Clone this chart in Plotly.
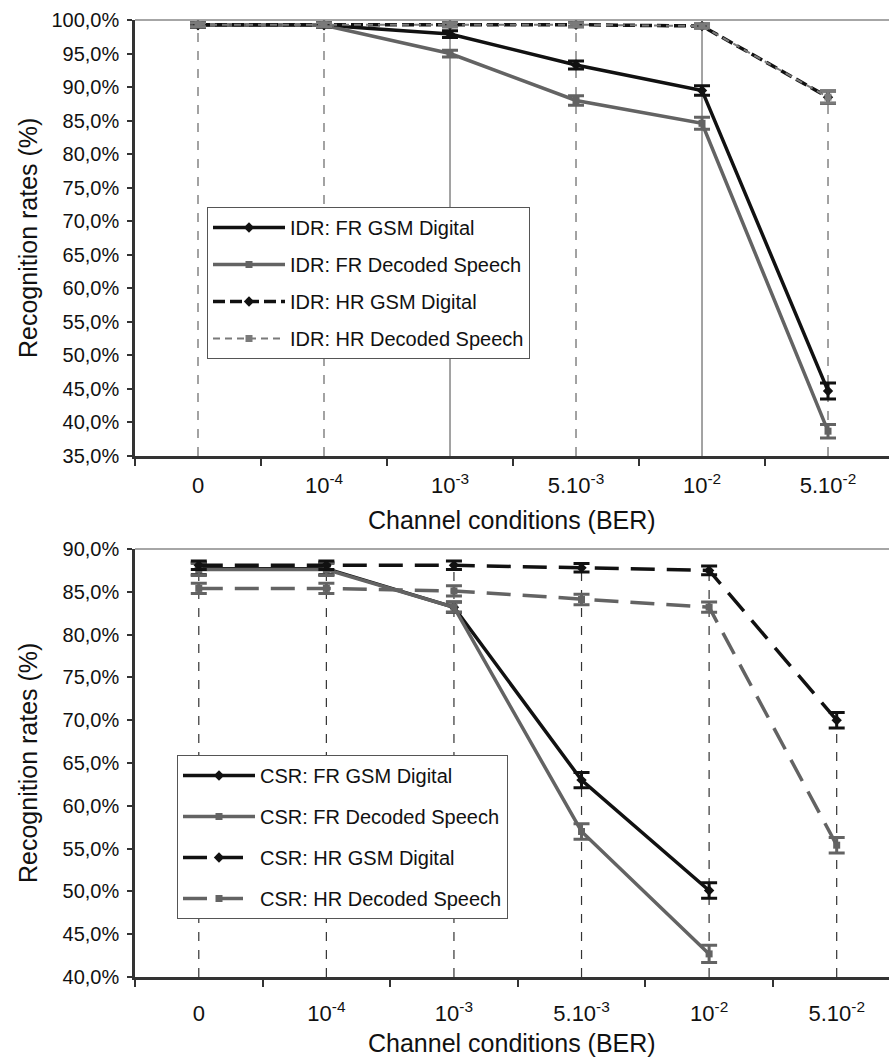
import plotly.graph_objects as go

# Channel conditions (bit error rate) shared by both panels
ber_labels = ["0", "10<sup>-4</sup>", "10<sup>-3</sup>", "5.10<sup>-3</sup>", "10<sup>-2</sup>", "5.10<sup>-2</sup>"]

# Isolated digit recognition (IDR) rates, %
idr_fr_digital = [99.2, 99.2, 97.9, 93.3, 89.5, 44.7]
idr_fr_digital_err = [0.3, 0.3, 0.5, 0.6, 0.7, 1.2]
idr_fr_decoded = [99.2, 99.2, 95.0, 88.0, 84.6, 38.7]
idr_fr_decoded_err = [0.3, 0.3, 0.5, 0.7, 0.9, 1.0]
idr_hr_digital = [99.3, 99.3, 99.3, 99.3, 99.1, 88.5]
idr_hr_digital_err = [0.3, 0.3, 0.3, 0.3, 0.3, 0.9]
idr_hr_decoded = [99.3, 99.3, 99.3, 99.3, 99.1, 88.5]
idr_hr_decoded_err = [0.3, 0.3, 0.3, 0.3, 0.3, 0.9]

# Continuous speech recognition (CSR) rates, %
csr_fr_digital = [87.7, 87.7, 83.2, 63.0, 50.1, None]
csr_fr_digital_err = [0.7, 0.7, 0.6, 0.9, 0.9, None]
csr_fr_decoded = [87.6, 87.6, 83.2, 57.0, 42.7, None]
csr_fr_decoded_err = [0.7, 0.7, 0.6, 0.9, 1.0, None]
csr_hr_digital = [88.1, 88.1, 88.1, 87.8, 87.5, 70.0]
csr_hr_digital_err = [0.5, 0.5, 0.5, 0.5, 0.5, 0.9]
csr_hr_decoded = [85.4, 85.4, 85.1, 84.1, 83.2, 55.4]
csr_hr_decoded_err = [0.6, 0.6, 0.6, 0.6, 0.6, 0.9]

idr_yticks = list(range(35, 101, 5))
csr_yticks = list(range(40, 91, 5))

W, H = 889, 1057
FONT = "Liberation Sans, Arial, sans-serif"
BLACK = "#111111"
GREY = "#636363"
LIGHT = "#7a7a7a"


def pct(v):
    return f"{v:.1f}%".replace(".", ",")


def py(px):
    return 1 - px / H


fig = go.Figure()


def add_panel(prefix, series, xa, ya, legend, y_floor, drop_dash, drop_color):
    # drop lines from the axis up to the highest value at each condition
    tops = []
    for i in range(len(ber_labels)):
        vals = [s["y"][i] for s in series if s["y"][i] is not None]
        tops.append(max(vals))
    for i, lab in enumerate(ber_labels):
        fig.add_trace(go.Scatter(
            x=[lab, lab], y=[y_floor, tops[i]], mode="lines",
            line=dict(color=drop_color, width=1.2, dash=drop_dash[i]),
            xaxis=xa, yaxis=ya, showlegend=False, hoverinfo="skip"))
    for k, s in enumerate(series):
        fig.add_trace(go.Scatter(
            x=ber_labels, y=s["y"], name=f"{prefix}: {s['name']}",
            mode="lines+markers",
            line=dict(color=s["color"], width=s["width"], dash=s["dash"]),
            marker=dict(symbol=s["symbol"], size=s["msize"], color=s["color"]),
            error_y=dict(type="data", array=s["err"], visible=True,
                         color=s["color"], thickness=3, width=8),
            xaxis=xa, yaxis=ya, legend=legend, legendgroup=f"{prefix}{k}"))


idr_series = [
    dict(name="FR GSM Digital", y=idr_fr_digital, err=idr_fr_digital_err, color=BLACK,
         width=3.5, dash="solid", symbol="diamond", msize=8),
    dict(name="FR Decoded Speech", y=idr_fr_decoded, err=idr_fr_decoded_err, color=GREY,
         width=3.5, dash="solid", symbol="square", msize=7),
    dict(name="HR GSM Digital", y=idr_hr_digital, err=idr_hr_digital_err, color=BLACK,
         width=3.5, dash="12px,5px", symbol="diamond", msize=8),
    dict(name="HR Decoded Speech", y=idr_hr_decoded, err=idr_hr_decoded_err, color=LIGHT,
         width=2, dash="7px,5px", symbol="square", msize=7),
]
csr_series = [
    dict(name="FR GSM Digital", y=csr_fr_digital, err=csr_fr_digital_err, color=BLACK,
         width=3.5, dash="solid", symbol="diamond", msize=8),
    dict(name="FR Decoded Speech", y=csr_fr_decoded, err=csr_fr_decoded_err, color=GREY,
         width=3.5, dash="solid", symbol="square", msize=7),
    dict(name="HR GSM Digital", y=csr_hr_digital, err=csr_hr_digital_err, color=BLACK,
         width=3.5, dash="24px,12px", symbol="diamond", msize=8),
    dict(name="HR Decoded Speech", y=csr_hr_decoded, err=csr_hr_decoded_err, color=GREY,
         width=3.5, dash="24px,12px", symbol="square", msize=7),
]

add_panel("IDR", idr_series, "x", "y", "legend", idr_yticks[0],
          ["dash", "dash", "solid", "dash", "solid", "dash"], "#666666")
add_panel("CSR", csr_series, "x2", "y2", "legend2", csr_yticks[0],
          ["dash"] * 6, "#333333")

xcommon = dict(
    type="category", categoryorder="array", categoryarray=ber_labels,
    tickson="boundaries", ticks="outside", ticklen=7, tickwidth=1.5, tickcolor="#333",
    showline=True, linecolor="#333", linewidth=2.5, showgrid=False, zeroline=False,
    tickfont=dict(family=FONT, size=22, color="#111"), automargin=False,
    domain=[135 / W, 1.0])
ycommon = dict(
    ticks="outside", ticklen=5, tickwidth=1.5, tickcolor="#333",
    showline=True, linecolor="#333", linewidth=2.5, showgrid=False, zeroline=False,
    tickfont=dict(family=FONT, size=20, color="#111"), automargin=False,
    ticklabelstandoff=4)

legend_common = dict(
    xanchor="left", yanchor="top", bgcolor="white", bordercolor="#555", borderwidth=1,
    font=dict(family=FONT, size=20, color="#111"), itemwidth=72,
    traceorder="grouped")

fig.update_layout(
    width=W, height=H, margin=dict(l=0, r=0, t=0, b=0),
    paper_bgcolor="white", plot_bgcolor="white",
    xaxis=dict(xcommon, anchor="y", range=[-0.5, 5.484], ticklabelstandoff=8),
    yaxis=dict(ycommon, anchor="x", domain=[py(456), py(20)], range=[35, 100],
               tickvals=idr_yticks, ticktext=[pct(v) for v in idr_yticks]),
    xaxis2=dict(xcommon, anchor="y2", range=[-0.5, 5.41], ticklabelstandoff=15),
    yaxis2=dict(ycommon, anchor="x2", domain=[py(977), py(549)], range=[40, 90],
                tickvals=csr_yticks, ticktext=[pct(v) for v in csr_yticks]),
    legend=dict(legend_common, x=207 / W, y=py(207), tracegroupgap=8),
    legend2=dict(legend_common, x=177 / W, y=py(755), tracegroupgap=12),
    showlegend=True,
)

# thin grey border along the top of each plot area
for yref in ("y domain", "y2 domain"):
    xref = "x domain" if yref == "y domain" else "x2 domain"
    fig.add_shape(type="line", xref=xref, yref=yref, x0=0, x1=1, y0=1, y1=1,
                  line=dict(color="#888", width=1.5))

title_font = dict(family=FONT, size=25, color="#111")
for ycen in (238, 763):
    fig.add_annotation(text="Recognition rates (%)", textangle=-90, xref="paper", yref="paper",
                       x=28 / W, y=py(ycen), xanchor="center", yanchor="middle",
                       showarrow=False, font=title_font)
for ycen in (520, 1043):
    fig.add_annotation(text="Channel conditions (BER)", xref="paper", yref="paper",
                       x=512 / W, y=py(ycen), xanchor="center", yanchor="middle",
                       showarrow=False, font=title_font)

fig.write_html("out.html")
